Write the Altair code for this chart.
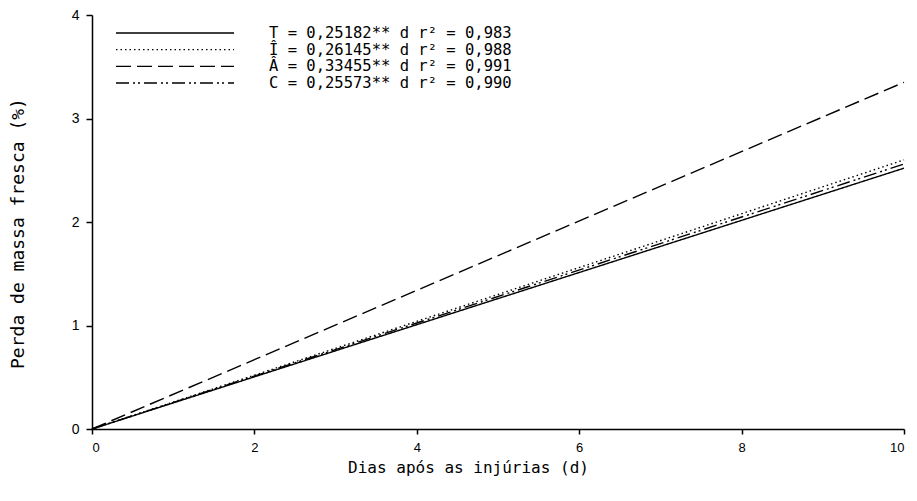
import altair as alt
import pandas as pd

# ---- data ----
series = ["T", "Î", "Â", "C"]
days = [0, 10]
start_values = [0.0, 0.0, 0.0, 0.0]
end_values = [2.52, 2.60, 3.35, 2.56]
legend_labels = [
    "T = 0,25182** d  r² = 0,983",
    "Î = 0,26145** d  r² = 0,988",
    "Â = 0,33455** d  r² = 0,991",
    "C = 0,25573** d  r² = 0,990",
]
x_ticks = [0, 2, 4, 6, 8, 10]
y_ticks = [0, 1, 2, 3, 4]
dash_styles = [[1, 0], [1.5, 3], [15, 6], [13, 4, 2, 3, 2, 4]]

rows = []
for s, v0, v1 in zip(series, start_values, end_values):
    rows.append({"serie": s, "d": days[0], "perda": v0})
    rows.append({"serie": s, "d": days[1], "perda": v1})
df = pd.DataFrame(rows)

leg = pd.DataFrame({"serie": series, "label": legend_labels})

FONT = "Liberation Sans"
WIDE = "DejaVu Sans Mono"

W, H = 812, 414

dash_scale = alt.Scale(domain=series, range=dash_styles)

lines = alt.Chart(df).mark_line(color="black", strokeWidth=1.4).encode(
    x=alt.X("d:Q", scale=alt.Scale(domain=[0, 10], nice=False),
            axis=alt.Axis(values=x_ticks, title="Dias após as injúrias (d)",
                          titleFont=WIDE, titleFontSize=16, titleFontWeight="normal",
                          titleX=376, titleY=38, titleAlign="center", titleBaseline="middle",
                          labelFont=FONT, labelFontSize=13, labelPadding=7, tickSize=5)),
    y=alt.Y("perda:Q", scale=alt.Scale(domain=[0, 4], nice=False),
            axis=alt.Axis(values=y_ticks, title="Perda de massa fresca (%)",
                          titleFont=WIDE, titleFontSize=18, titleFontWeight="normal",
                          titleX=-74, titleY=218, titleAlign="center", titleBaseline="middle",
                          labelFont=FONT, labelFontSize=14, labelPadding=7, tickSize=6)),
    strokeDash=alt.StrokeDash("serie:N", scale=dash_scale, legend=None),
)

leg_y = alt.Y("serie:N", sort=series,
              scale=alt.Scale(type="point", range=[18, 68], padding=0), axis=None)

leg_rules = alt.Chart(leg).mark_rule(color="black", strokeWidth=1.4).encode(
    x=alt.value(24), x2=alt.value(142), y=leg_y,
    strokeDash=alt.StrokeDash("serie:N", scale=dash_scale, legend=None),
)

leg_text = alt.Chart(leg).mark_text(align="left", baseline="middle", font=WIDE,
                                    fontSize=15.5, color="black").encode(
    x=alt.value(177), y=leg_y, text="label:N",
)

legend_layer = alt.layer(leg_rules, leg_text)

chart = alt.layer(lines, legend_layer).resolve_scale(y="independent").properties(
    width=W, height=H,
    autosize=alt.AutoSizeParams(type="none"),
    padding={"left": 84, "top": 7, "right": 5, "bottom": 60},
).configure_view(stroke=None).configure_axis(
    grid=False, domainColor="black", tickColor="black", domainWidth=1.5, tickWidth=1.5,
    labelColor="black", titleColor="black",
)

chart.save("out.html", embed_options={"renderer": "svg", "actions": False})
